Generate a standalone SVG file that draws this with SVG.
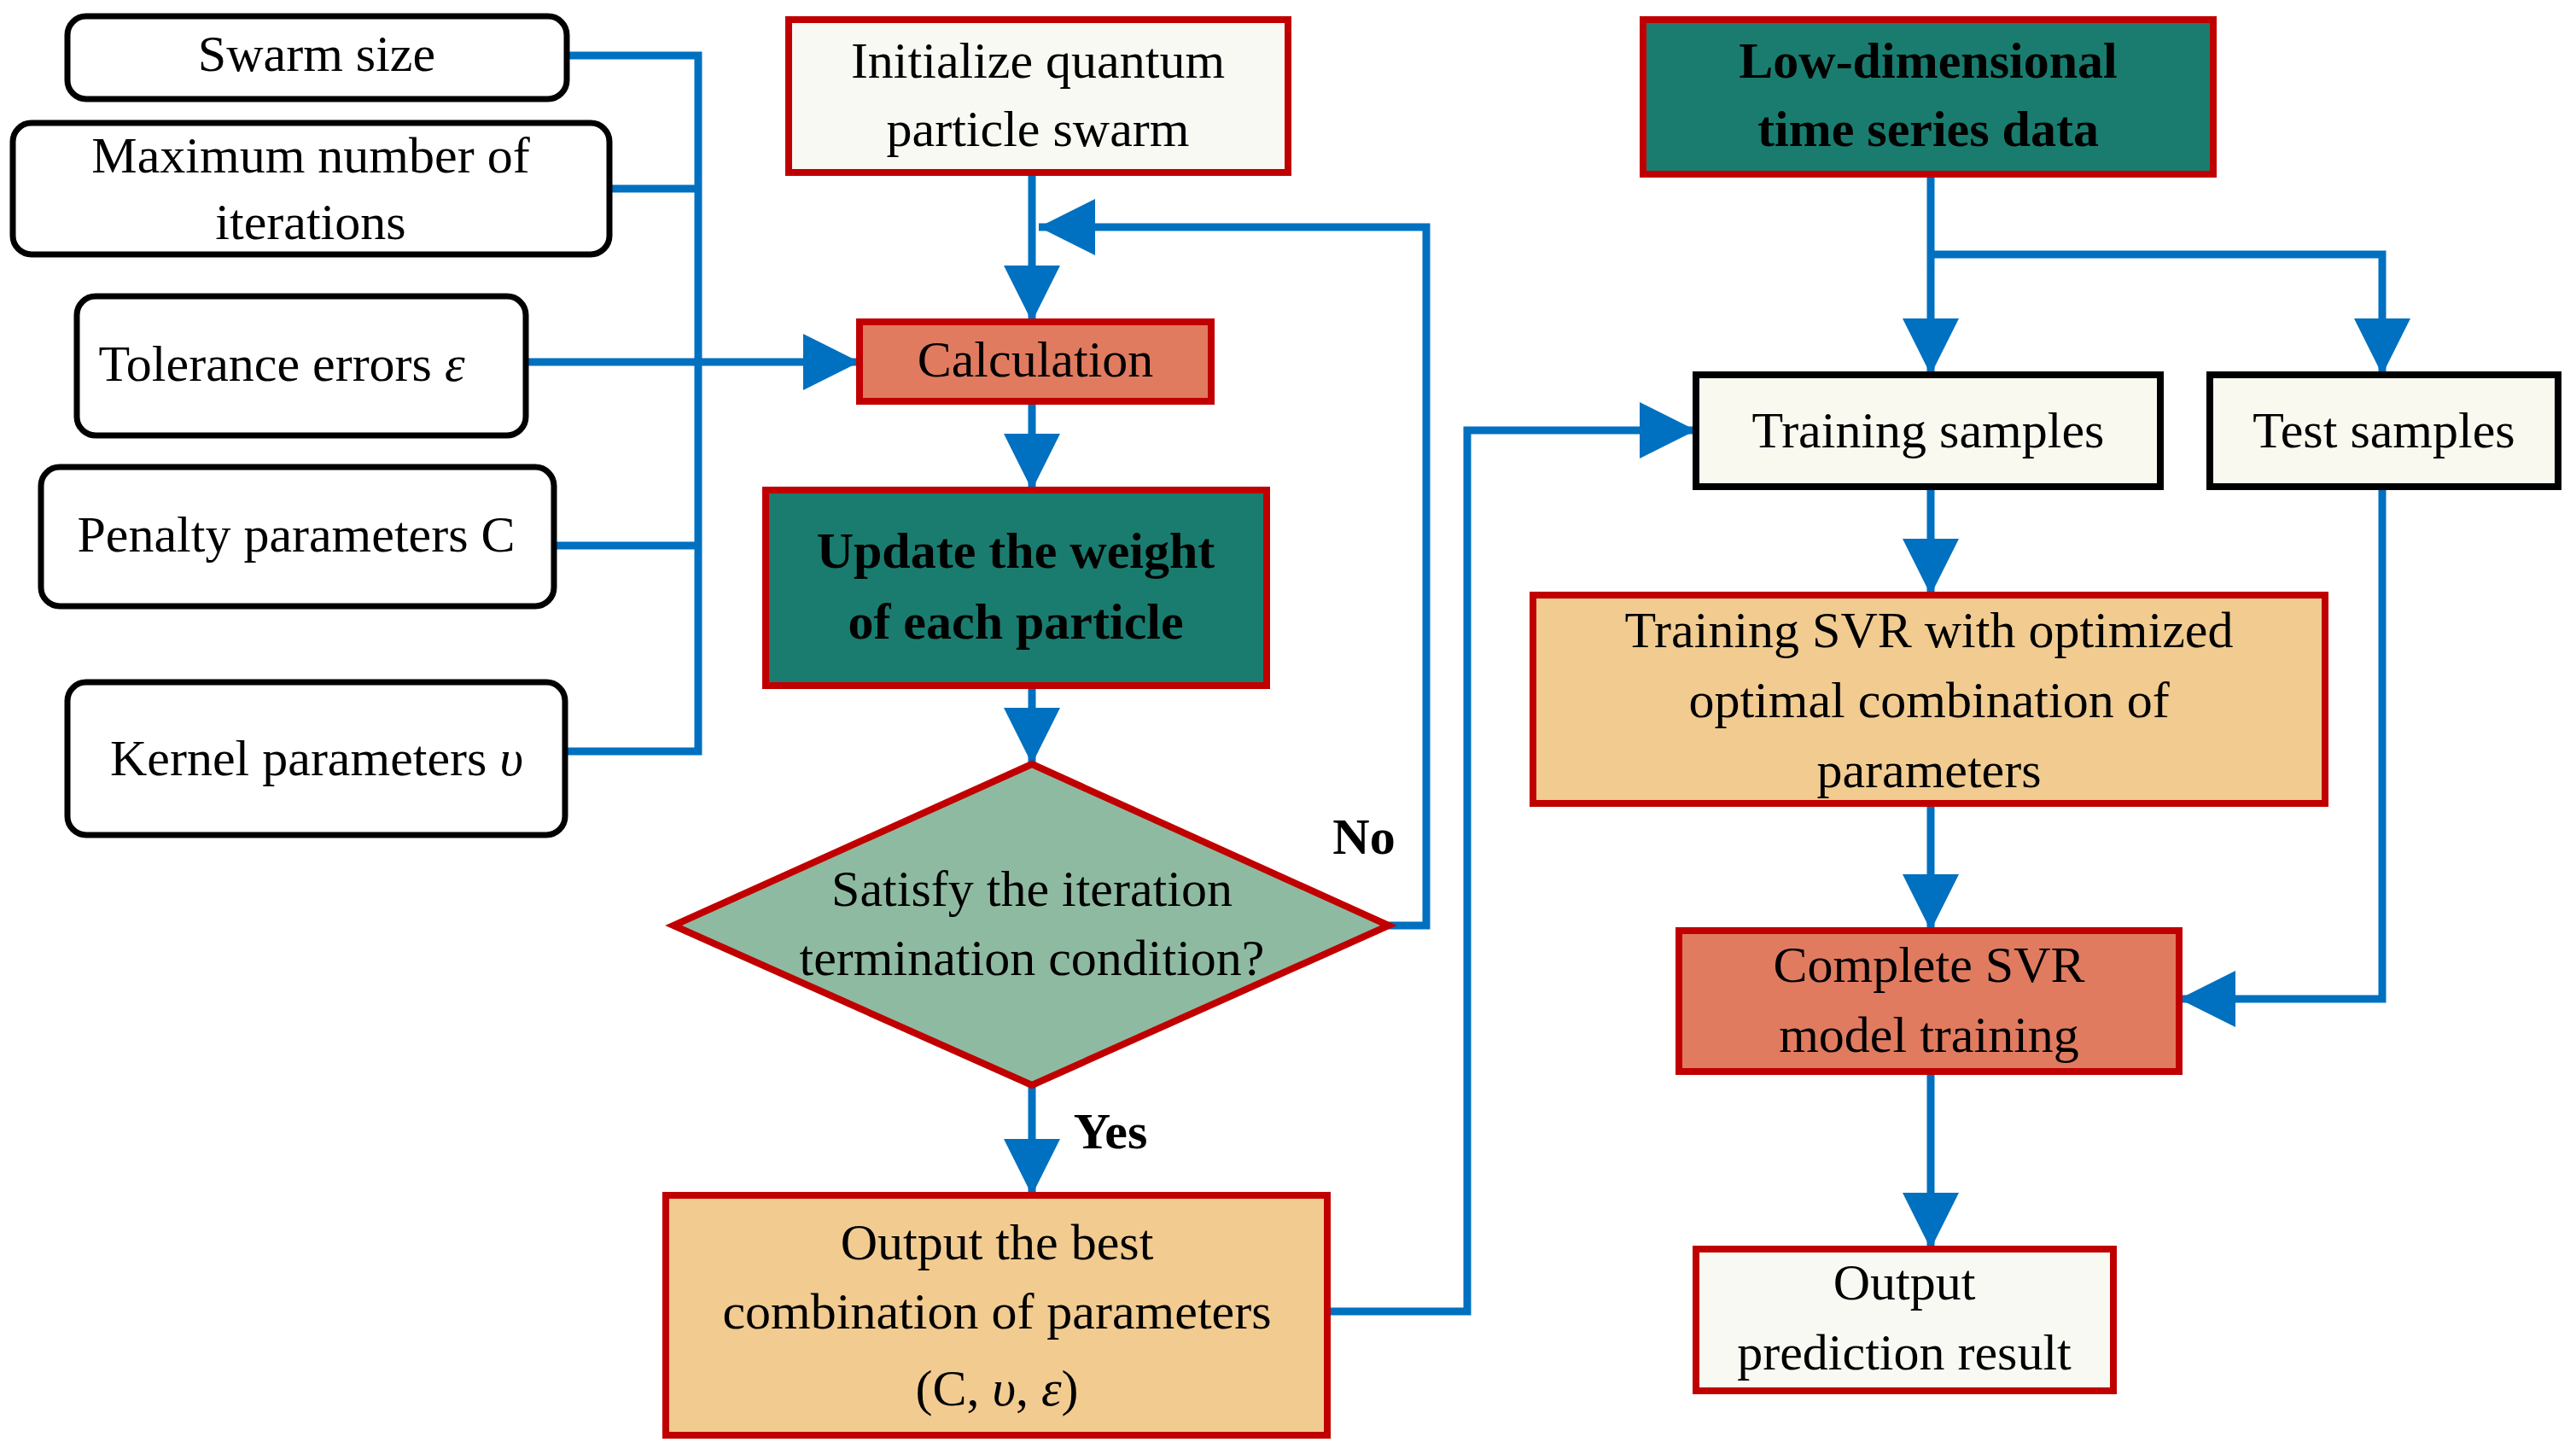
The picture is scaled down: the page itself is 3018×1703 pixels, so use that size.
<svg xmlns="http://www.w3.org/2000/svg" width="3018" height="1703" viewBox="0 0 3018 1703">
<style>
text{font-family:"Liberation Serif","DejaVu Serif",serif;font-size:60px;fill:#000;text-anchor:middle}
.b{font-weight:bold}
.i{font-style:italic}
.w{fill:#fff;stroke:#000;stroke-width:7}
.r{stroke:#c00000;stroke-width:8}
.k{stroke:#000;stroke-width:8}
.c{fill:none;stroke:#0070c0;stroke-width:9}
</style>
<defs><marker id="a" markerUnits="userSpaceOnUse" markerWidth="66" markerHeight="66" refX="66" refY="33" orient="auto"><path d="M0,0 L66,33 L0,66 Z" fill="#0070c0"/></marker></defs>
<g id="connectors">
<path class="c" d="M664,65 H818 V880 H662"/>
<path class="c" d="M714,221 H818"/>
<path class="c" d="M649,639 H818"/>
<path class="c" d="M616,424 H1007" marker-end="url(#a)"/>
<path class="c" d="M1209,202 V377" marker-end="url(#a)"/>
<path class="c" d="M1209,470 V574" marker-end="url(#a)"/>
<path class="c" d="M1209,803 V895" marker-end="url(#a)"/>
<path class="c" d="M1209,1271 V1400" marker-end="url(#a)"/>
<path class="c" d="M1627,1084 H1671 V266 H1217" marker-end="url(#a)"/>
<path class="c" d="M1555,1536 H1719 V504 H1987" marker-end="url(#a)"/>
<path class="c" d="M2262,204 V439" marker-end="url(#a)"/>
<path class="c" d="M2262,298 H2791 V439" marker-end="url(#a)"/>
<path class="c" d="M2262,570 V697" marker-end="url(#a)"/>
<path class="c" d="M2262,941 V1090" marker-end="url(#a)"/>
<path class="c" d="M2262,1255 V1463" marker-end="url(#a)"/>
<path class="c" d="M2791,570 V1170 H2553" marker-end="url(#a)"/>
</g>
<g id="swarm"><rect class="w" x="79" y="19" width="585" height="97" rx="22"/><text x="371" y="83">Swarm size</text></g>
<g id="maxiter"><rect class="w" x="15" y="144" width="699" height="154" rx="22"/><text x="364" y="202">Maximum number of</text><text x="364" y="280">iterations</text></g>
<g id="tol"><rect class="w" x="90" y="347" width="526" height="163" rx="22"/><text x="330" y="446">Tolerance errors <tspan class="i">ε</tspan></text></g>
<g id="pen"><rect class="w" x="48" y="547" width="601" height="163" rx="22"/><text x="347" y="646">Penalty parameters C</text></g>
<g id="kernel"><rect class="w" x="79" y="799" width="583" height="179" rx="22"/><text x="371" y="908">Kernel parameters <tspan class="i">υ</tspan></text></g>
<g id="init"><rect class="r" x="924" y="23" width="585" height="179" fill="#f9f9f4"/><text x="1216" y="91">Initialize quantum</text><text x="1216" y="171">particle swarm</text></g>
<g id="calc"><rect class="r" x="1007" y="377" width="412" height="93" fill="#e07b60"/><text x="1213" y="441">Calculation</text></g>
<g id="update"><rect class="r" x="897" y="574" width="587" height="229" fill="#1a7c6e"/><text class="b" x="1190" y="665">Update the weight</text><text class="b" x="1190" y="748">of each particle</text></g>
<g id="cond"><polygon class="r" points="1209,895 1627,1084 1209,1271 789,1084" fill="#8fbaa2"/><text x="1209" y="1061">Satisfy the iteration</text><text x="1209" y="1142">termination condition?</text></g>
<g id="labels"><text class="b" x="1598" y="1000">No</text><text class="b" x="1301" y="1345">Yes</text></g>
<g id="best"><rect class="r" x="780" y="1400" width="775" height="281" fill="#f1cb90"/><text x="1168" y="1475">Output the best</text><text x="1168" y="1556">combination of parameters</text><text x="1168" y="1646">(C, <tspan class="i">υ</tspan>, <tspan class="i">ε</tspan>)</text></g>
<g id="lowdim"><rect class="r" x="1925" y="23" width="668" height="181" fill="#1a7c6e"/><text class="b" x="2259" y="91">Low-dimensional</text><text class="b" x="2259" y="171">time series data</text></g>
<g id="train"><rect class="k" x="1987" y="439" width="544" height="131" fill="#f9f9f0"/><text x="2259" y="524">Training samples</text></g>
<g id="test"><rect class="k" x="2589" y="439" width="408" height="131" fill="#f9f9f0"/><text x="2793" y="524">Test samples</text></g>
<g id="svr"><rect class="r" x="1796" y="697" width="928" height="244" fill="#f1cb90"/><text x="2260" y="758">Training SVR with optimized</text><text x="2260" y="840">optimal combination of</text><text x="2260" y="922">parameters</text></g>
<g id="complete"><rect class="r" x="1967" y="1090" width="586" height="165" fill="#e07b60"/><text x="2260" y="1150">Complete SVR</text><text x="2260" y="1232">model training</text></g>
<g id="result"><rect class="r" x="1987" y="1463" width="489" height="166" fill="#f9f9f4"/><text x="2231" y="1522">Output</text><text x="2231" y="1604">prediction result</text></g>
</svg>
